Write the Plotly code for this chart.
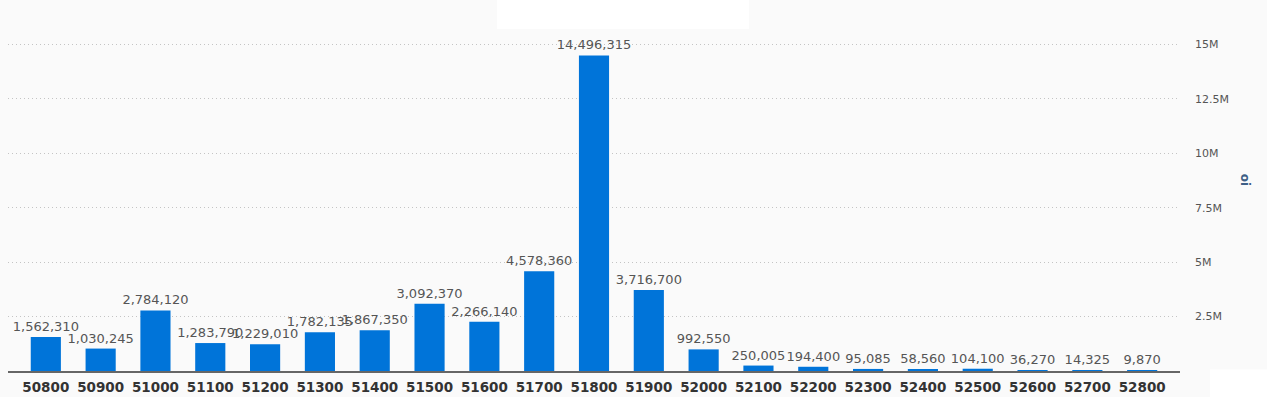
import plotly.graph_objects as go

strikes = ["50800", "50900", "51000", "51100", "51200", "51300", "51400", "51500", "51600", "51700",
           "51800", "51900", "52000", "52100", "52200", "52300", "52400", "52500", "52600", "52700", "52800"]
oi_values = [1562310, 1030245, 2784120, 1283790, 1229010, 1782135, 1867350, 3092370, 2266140, 4578360,
             14496315, 3716700, 992550, 250005, 194400, 95085, 58560, 104100, 36270, 14325, 9870]
y_tickvals = [2500000, 5000000, 7500000, 10000000, 12500000, 15000000]
y_ticktext = ["2.5M", "5M", "7.5M", "10M", "12.5M", "15M"]

W, H = 1267, 397
L, R, T, B = 8, 1180, 30, 371.5  # plot area in pixels

def px_to_paper_x(px):
    return (px - L) / (R - L)

def px_to_paper_y(py):
    return (B - py) / (B - T)

FONT = "DejaVu Sans"

fig = go.Figure()
fig.add_trace(go.Bar(
    x=list(range(len(strikes))),
    y=oi_values,
    marker=dict(color="#0074d9", line=dict(width=0)),
    text=[f"{v:,}" for v in oi_values],
    textposition="outside",
    constraintext="none",
    cliponaxis=False,
    textfont=dict(family=FONT, size=13, color="#555555"),
    width=0.55,
    hoverinfo="skip",
))

fig.update_layout(
    width=W, height=H,
    margin=dict(l=L, r=W - R, t=T, b=H - B, pad=0, autoexpand=False),
    paper_bgcolor="#fafafa",
    plot_bgcolor="#fafafa",
    showlegend=False,
    font=dict(family=FONT, color="#555555"),
    xaxis=dict(
        tickmode="array",
        tickvals=list(range(len(strikes))),
        ticktext=strikes,
        range=[-0.69, 20.69],
        showgrid=False,
        zeroline=False,
        showline=True,
        linecolor="#666666",
        linewidth=2,
        ticks="",
        automargin=False,
        ticklabelstandoff=3,
        tickfont=dict(family=FONT, size=13.5, color="#333333", weight="bold"),
        fixedrange=True,
    ),
    yaxis=dict(
        side="right",
        range=[0, 15000000 * (B - T) / (B - 44.5)],
        tickmode="array",
        tickvals=y_tickvals,
        ticktext=y_ticktext,
        showgrid=True,
        gridcolor="#c4c4c4",
        griddash="1px,3px",
        gridwidth=1,
        zeroline=False,
        showline=False,
        ticks="",
        automargin=False,
        ticklabelstandoff=14,
        tickfont=dict(family=FONT, size=11, color="#555555"),
        fixedrange=True,
    ),
    shapes=[
        dict(type="rect", xref="paper", yref="paper", layer="above",
             x0=px_to_paper_x(497), x1=px_to_paper_x(749),
             y0=px_to_paper_y(29), y1=px_to_paper_y(-2),
             fillcolor="#ffffff", line=dict(width=0)),
        dict(type="rect", xref="paper", yref="paper", layer="above",
             x0=px_to_paper_x(1210), x1=px_to_paper_x(1270),
             y0=px_to_paper_y(400), y1=px_to_paper_y(370),
             fillcolor="#ffffff", line=dict(width=0)),
    ],
    annotations=[
        dict(text="oi", xref="paper", yref="paper",
             x=px_to_paper_x(1245), y=px_to_paper_y(180),
             showarrow=False, textangle=90,
             font=dict(family=FONT, size=12, color="#3d5f86", weight="bold"),
             xanchor="center", yanchor="middle"),
    ],
)

fig.write_html("out.html", config={"displayModeBar": False},
               post_script="document.body.style.margin='0';document.body.style.overflow='hidden';")
